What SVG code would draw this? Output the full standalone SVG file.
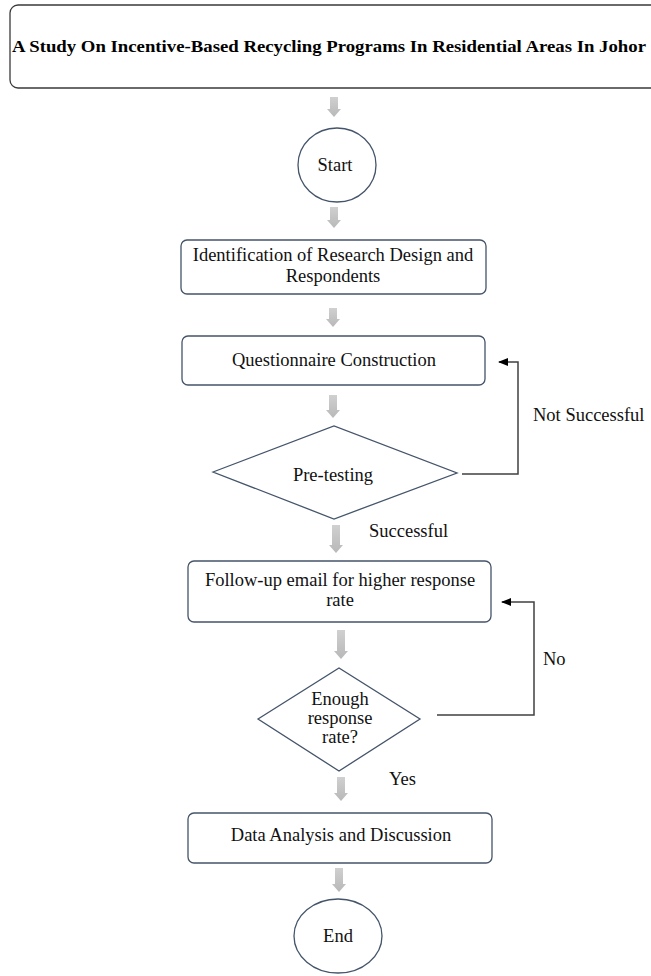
<svg xmlns="http://www.w3.org/2000/svg" width="651" height="976" viewBox="0 0 651 976">
<defs>
<linearGradient id="gg" x1="0" y1="0" x2="0" y2="1">
<stop offset="0" stop-color="#d0d0d0"/>
<stop offset="1" stop-color="#b8b8b8"/>
</linearGradient>
<marker id="ah" markerWidth="10" markerHeight="8" refX="9" refY="4" orient="auto" markerUnits="userSpaceOnUse">
<path d="M0,0 L10,4 L0,8 Z" fill="#000"/>
</marker>
</defs>
<style>
.node{fill:#fff;stroke:#44546a;stroke-width:1.3}
.title{fill:#fff;stroke:#3a3a3a;stroke-width:1.3}
.t{font-family:"Liberation Serif","Times New Roman",serif;font-size:18.5px;fill:#111;text-anchor:middle}
.tl{font-family:"Liberation Serif","Times New Roman",serif;font-size:18.5px;fill:#111}
.tb{font-family:"Liberation Serif","Times New Roman",serif;font-size:17.5px;font-weight:bold;fill:#000}
.ba{fill:url(#gg);stroke:none}
.ln{fill:none;stroke:#404040;stroke-width:1.5}
</style>
<rect width="651" height="976" fill="#fff"/>

<g id="title">
<rect class="title" x="10" y="5" width="660" height="83" rx="8"/>
<text class="tb" x="12" y="52" textLength="634" lengthAdjust="spacingAndGlyphs">A Study On Incentive-Based Recycling Programs In Residential Areas In Johor</text>
</g>

<g id="start">
<ellipse class="node" cx="337" cy="165" rx="39" ry="37"/>
<text class="t" x="335" y="171">Start</text>
</g>

<g id="identification">
<rect class="node" x="181" y="240" width="305" height="54" rx="6"/>
<text class="t" x="333" y="261">Identification of Research Design and</text>
<text class="t" x="333" y="282">Respondents</text>
</g>

<g id="questionnaire">
<rect class="node" x="182" y="336" width="303" height="49" rx="6"/>
<text class="t" x="334" y="366">Questionnaire Construction</text>
</g>

<g id="pretesting">
<polygon class="node" points="213,472 334,426 457,473 334,519"/>
<text class="t" x="333" y="481">Pre-testing</text>
</g>

<g id="followup">
<rect class="node" x="188" y="561" width="303" height="61" rx="6"/>
<text class="t" x="340" y="586">Follow-up email for higher response</text>
<text class="t" x="340" y="606">rate</text>
</g>

<g id="enough">
<polygon class="node" points="258,719 339,668 420,719 339,771"/>
<text class="t" x="340" y="705">Enough</text>
<text class="t" x="340" y="724">response</text>
<text class="t" x="340" y="743">rate?</text>
</g>

<g id="analysis">
<rect class="node" x="188" y="813" width="304" height="50" rx="6"/>
<text class="t" x="341" y="841">Data Analysis and Discussion</text>
</g>

<g id="end">
<ellipse class="node" cx="338" cy="936" rx="44" ry="37"/>
<text class="t" x="338" y="942">End</text>
</g>

<g id="connectors">
<path class="ba" d="M330,97 H338 V109 H341 L334,117 L327,109 H330 Z"/>
<path class="ba" d="M330,207 H338 V220 H341 L334,228 L327,220 H330 Z"/>
<path class="ba" d="M329,308 H337 V319 H340 L333,327 L326,319 H329 Z"/>
<path class="ba" d="M329,395 H337 V410 H340 L333,418 L326,410 H329 Z"/>
<path class="ba" d="M332,525 H340 V545 H343 L336,553 L329,545 H332 Z"/>
<path class="ba" d="M337,630 H345 V651 H348 L341,659 L334,651 H337 Z"/>
<path class="ba" d="M337,777 H345 V793 H348 L341,801 L334,793 H337 Z"/>
<path class="ba" d="M335,868 H343 V884 H346 L339,892 L332,884 H335 Z"/>
<path class="ln" d="M462,474 H518 V362 H499" marker-end="url(#ah)"/>
<path class="ln" d="M437,715 H534 V602 H502" marker-end="url(#ah)"/>
<text class="tl" x="533" y="421">Not Successful</text>
<text class="tl" x="369" y="537">Successful</text>
<text class="tl" x="543" y="665">No</text>
<text class="tl" x="389" y="785">Yes</text>
</g>
</svg>
